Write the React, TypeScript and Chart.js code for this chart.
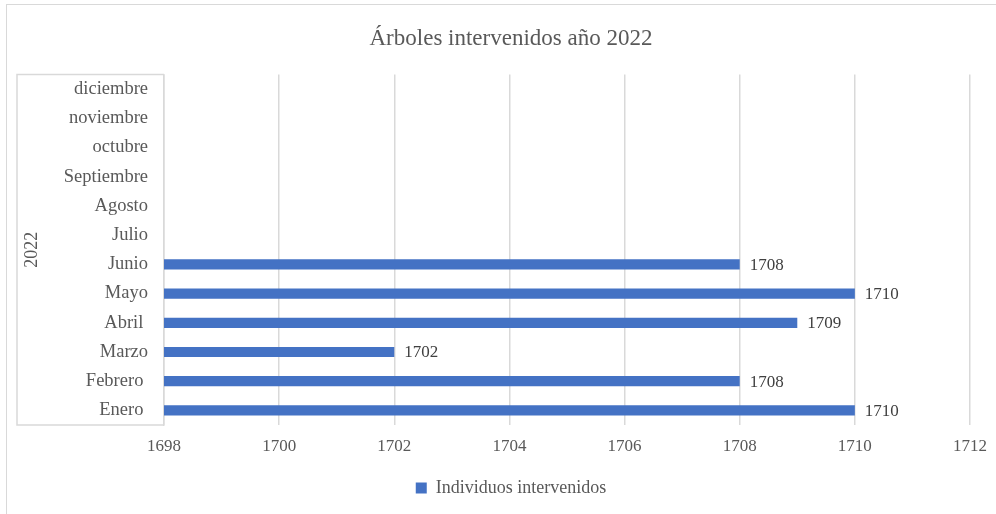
import { useEffect, useRef } from "react";
import { Chart, registerables } from "chart.js";

Chart.register(...registerables);

const meses = [
  "Enero ",
  "Febrero ",
  "Marzo",
  "Abril ",
  "Mayo",
  "Junio",
  "Julio",
  "Agosto",
  "Septiembre",
  "octubre",
  "noviembre",
  "diciembre",
];
const individuos: (number | null)[] = [1710, 1708, 1702, 1709, 1710, 1708, null, null, null, null, null, null];
const grupo = "2022";
const xMin = 1698;
const xMax = 1712;
const xStep = 2;

const FONT = '"Liberation Serif", "Times New Roman", serif';
const GRAY = "#595959";
const LINE = "#d9d9d9";
const GROUP_LEFT = 9;

// Outer level of the category axis: box round the month labels and the year
const groupBox = {
  id: "groupBox",
  afterDraw(chart: Chart) {
    const { ctx, chartArea } = chart;
    const { left, top, bottom } = chartArea;
    ctx.save();
    ctx.strokeStyle = LINE;
    ctx.lineWidth = 1.5;
    ctx.beginPath();
    ctx.moveTo(left, top);
    ctx.lineTo(GROUP_LEFT, top);
    ctx.lineTo(GROUP_LEFT, bottom);
    ctx.lineTo(left, bottom);
    ctx.stroke();
    ctx.translate(GROUP_LEFT + 15, (top + bottom) / 2);
    ctx.rotate(-Math.PI / 2);
    ctx.font = `18px ${FONT}`;
    ctx.fillStyle = GRAY;
    ctx.textAlign = "center";
    ctx.textBaseline = "middle";
    ctx.fillText(grupo, 0, 0);
    ctx.restore();
  },
};

const valueLabels = {
  id: "valueLabels",
  afterDatasetsDraw(chart: Chart) {
    const { ctx } = chart;
    const meta = chart.getDatasetMeta(0);
    ctx.save();
    ctx.font = `17px ${FONT}`;
    ctx.fillStyle = "#404040";
    ctx.textAlign = "left";
    ctx.textBaseline = "middle";
    meta.data.forEach((bar: any, i: number) => {
      const v = individuos[i];
      if (v == null) return;
      ctx.fillText(String(v), bar.x + 10, bar.y + 1);
    });
    ctx.restore();
  },
};

function ArbolesChart() {
  const chartRef = useRef<HTMLCanvasElement>(null);
  const chartInstance = useRef<Chart | null>(null);

  useEffect(() => {
    if (!chartRef.current) return;
    if (chartInstance.current) chartInstance.current.destroy();
    const ctx = chartRef.current.getContext("2d");
    if (!ctx) return;

    chartInstance.current = new Chart(ctx, {
      type: "bar",
      data: {
        labels: meses,
        datasets: [
          {
            label: "Individuos intervenidos",
            data: individuos,
            backgroundColor: "#4472C4",
            borderWidth: 0,
            categoryPercentage: 1,
            barPercentage: 0.35,
          },
        ],
      },
      options: {
        indexAxis: "y",
        responsive: false,
        animation: false,
        layout: { padding: { left: 44, right: 44, top: 0, bottom: 19 } },
        plugins: {
          title: {
            display: true,
            text: "Árboles intervenidos año 2022",
            color: GRAY,
            font: { family: FONT, size: 23, weight: "normal" },
            padding: { top: 19, bottom: 22 },
          },
          legend: {
            position: "bottom",
            labels: {
              color: GRAY,
              font: { family: FONT, size: 18 },
              boxWidth: 11,
              boxHeight: 11,
              padding: 10,
            },
          },
          tooltip: { enabled: false },
        },
        scales: {
          x: {
            min: xMin,
            max: xMax,
            grid: { color: LINE, lineWidth: 1.5, drawTicks: false },
            border: { display: false },
            ticks: {
              stepSize: xStep,
              color: GRAY,
              font: { family: FONT, size: 17 },
              padding: 11,
              callback: (value: any) => String(value),
            },
            afterFit(scale: any) {
              scale.height = 44;
            },
          },
          y: {
            reverse: true,
            grid: { display: false, drawTicks: false },
            border: { display: true, color: LINE, width: 1.5 },
            ticks: {
              color: GRAY,
              font: { family: FONT, size: 18.5 },
              padding: 16,
            },
            afterFit(scale: any) {
              scale.width = 112;
            },
          },
        },
      },
      plugins: [groupBox, valueLabels],
    });

    return () => {
      if (chartInstance.current) {
        chartInstance.current.destroy();
        chartInstance.current = null;
      }
    };
  }, []);

  return <canvas ref={chartRef} width={1006} height={520} style={{ width: 1006, height: 520, display: "block" }} />;
}

export default function App() {
  return (
    <div style={{ position: "fixed", left: 0, top: 0, width: 996, height: 514, overflow: "hidden", background: "#fff" }}>
      <div
        style={{
          position: "absolute",
          left: 6,
          top: 4,
          width: 1100,
          height: 600,
          borderLeft: `1.5px solid ${LINE}`,
          borderTop: `1.5px solid ${LINE}`,
        }}
      />
      <div style={{ position: "absolute", left: 8, top: 6 }}>
        <ArbolesChart />
      </div>
    </div>
  );
}
